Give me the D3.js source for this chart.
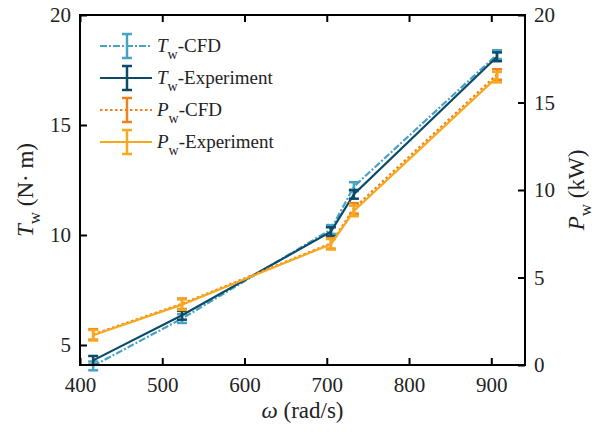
<!DOCTYPE html>
<html>
<head>
<meta charset="utf-8">
<script src="https://cdn.jsdelivr.net/npm/d3@7"></script>
<style>
  body { margin: 0; background: #fff; }
</style>
</head>
<body>
<div id="chart"></div>
<script>
// angular speed (rad/s)
var omega = [416, 524, 705, 733, 907];
// torque, N.m (left axis)
var tCfd = [4.05, 6.2, 10.25, 12.2, 18.2];
var tExp = [4.3, 6.35, 10.15, 11.85, 18.1];
// power, kW (right axis)
var pCfd = [1.75, 3.5, 6.95, 8.95, 16.6];
var pExp = [1.7, 3.45, 6.9, 8.8, 16.45];
var tErr = 0.2, pErr = 0.3;
var xTicks = [400, 500, 600, 700, 800, 900];
var tTicks = [5, 10, 15, 20];
var pTicks = [0, 5, 10, 15, 20];

var width = 600, height = 432;
var margin = {top: 15, right: 75, bottom: 67, left: 80};
var serif = "'Liberation Serif', serif";

var svg = d3.select('#chart').append('svg')
    .attr('width', width)
    .attr('height', height);

var x = d3.scaleLinear().domain([400, 941]).range([margin.left, width - margin.right]);
var yT = d3.scaleLinear().domain([4.09, 20]).range([height - margin.bottom, margin.top]);
var yP = d3.scaleLinear().domain([0, 20]).range([height - margin.bottom, margin.top]);

var series = [
    {name: 'T', label: '-CFD', vals: tCfd, y: yT, err: tErr, color: '#48a2c3', dash: '7,2,2,2'},
    {name: 'T', label: '-Experiment', vals: tExp, y: yT, err: tErr, color: '#0c4a68', dash: null},
    {name: 'P', label: '-CFD', vals: pCfd, y: yP, err: pErr, color: '#f2801e', dash: '2.5,2.5'},
    {name: 'P', label: '-Experiment', vals: pExp, y: yP, err: pErr, color: '#f7a91e', dash: null}
];

// plot lines + error bars
series.forEach(function(s) {
    var pts = omega.map(function(w, i) { return [w, s.vals[i]]; });
    var line = d3.line()
        .x(function(d) { return x(d[0]); })
        .y(function(d) { return s.y(d[1]); });
    svg.append('path')
        .datum(pts)
        .attr('d', line)
        .attr('fill', 'none')
        .attr('stroke', s.color)
        .attr('stroke-width', 2.2)
        .attr('stroke-dasharray', s.dash);

    var g = svg.append('g').attr('stroke', s.color).attr('stroke-width', 2.5);
    pts.forEach(function(d) {
        var cx = x(d[0]), y0 = s.y(d[1] - s.err), y1 = s.y(d[1] + s.err);
        g.append('line').attr('x1', cx).attr('x2', cx).attr('y1', y0).attr('y2', y1);
        g.append('line').attr('x1', cx - 5).attr('x2', cx + 5).attr('y1', y0).attr('y2', y0);
        g.append('line').attr('x1', cx - 5).attr('x2', cx + 5).attr('y1', y1).attr('y2', y1);
    });
});

// axes, ticks inward
function styleAxis(g) {
    g.selectAll('path').remove();
    g.selectAll('line').attr('stroke', '#000').attr('stroke-width', 2);
    g.selectAll('text')
        .style('font-family', serif)
        .style('font-size', '21px')
        .attr('fill', '#222');
}
var bottom = height - margin.bottom, right = width - margin.right;

svg.append('g')
    .attr('transform', 'translate(0,' + bottom + ')')
    .call(d3.axisBottom(x).tickValues(xTicks).tickSizeInner(-7).tickPadding(12))
    .call(styleAxis);
svg.append('g')
    .attr('transform', 'translate(0,' + margin.top + ')')
    .call(d3.axisTop(x).tickValues(xTicks).tickSizeInner(-7).tickFormat(''))
    .call(styleAxis);
svg.append('g')
    .attr('transform', 'translate(' + margin.left + ',0)')
    .call(d3.axisLeft(yT).tickValues(tTicks).tickSizeInner(-7).tickPadding(9))
    .call(styleAxis);
svg.append('g')
    .attr('transform', 'translate(' + right + ',0)')
    .call(d3.axisRight(yP).tickValues(pTicks).tickSizeInner(-7).tickPadding(9))
    .call(styleAxis);

svg.append('rect')
    .attr('x', margin.left).attr('y', margin.top)
    .attr('width', right - margin.left).attr('height', bottom - margin.top)
    .attr('fill', 'none').attr('stroke', '#000').attr('stroke-width', 2);

// axis titles
function title(sel) {
    return sel.style('font-family', serif).style('font-size', '23px').attr('fill', '#222')
        .attr('text-anchor', 'middle');
}
svg.append('text').call(title)
    .attr('x', (margin.left + right) / 2).attr('y', 418)
    .html('<tspan font-style="italic">ω</tspan> (rad/s)');

svg.append('text').call(title)
    .attr('transform', 'translate(33,190) rotate(-90)')
    .html('<tspan font-style="italic">T</tspan><tspan dy="7" style="font-size:17px">w</tspan><tspan dy="-7"> (N· m)</tspan>');

svg.append('text').call(title)
    .attr('transform', 'translate(584,190) rotate(-90)')
    .html('<tspan font-style="italic">P</tspan><tspan dy="7" style="font-size:17px">w</tspan><tspan dy="-7"> (kW)</tspan>');

// legend
var legend = svg.append('g');
series.forEach(function(s, i) {
    var cy = 46 + i * 32;
    var row = legend.append('g').attr('transform', 'translate(0,' + cy + ')');
    row.append('line').attr('x1', 100).attr('x2', 152).attr('y1', 0).attr('y2', 0)
        .attr('stroke', s.color).attr('stroke-width', 2.2).attr('stroke-dasharray', s.dash);
    var g = row.append('g').attr('stroke', s.color).attr('stroke-width', 2.5);
    g.append('line').attr('x1', 127).attr('x2', 127).attr('y1', -12).attr('y2', 12);
    g.append('line').attr('x1', 122).attr('x2', 132).attr('y1', -12).attr('y2', -12);
    g.append('line').attr('x1', 122).attr('x2', 132).attr('y1', 12).attr('y2', 12);
    row.append('text').attr('x', 157).attr('y', 6)
        .style('font-family', serif).style('font-size', '19px').attr('fill', '#222')
        .html('<tspan font-style="italic">' + s.name + '</tspan><tspan dy="7" style="font-size:14px">w</tspan><tspan dy="-7">' + s.label + '</tspan>');
});
</script>
</body>
</html>
